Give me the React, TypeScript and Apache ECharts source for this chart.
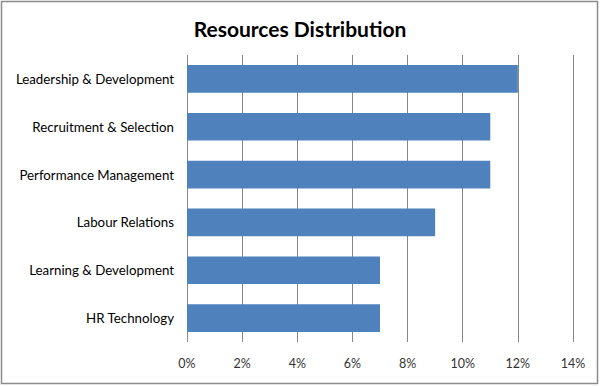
import React, { useEffect, useRef } from "react";
import * as echarts from "echarts";

const categories = [
  "Leadership & Development",
  "Recruitment & Selection",
  "Performance Management",
  "Labour Relations",
  "Learning & Development",
  "HR Technology",
];
const values = [0.12, 0.11, 0.11, 0.09, 0.07, 0.07];
const titleText = "Resources Distribution";

export default function App() {
  const ref = useRef<HTMLDivElement>(null);
  useEffect(() => {
    if (!ref.current) return;
    const chart = echarts.init(ref.current, null, { renderer: "svg" });
    chart.setOption({
      animation: false,
      backgroundColor: "#ffffff",
      title: {
        text: titleText,
        left: "center",
        top: 13,
        textStyle: {
          fontFamily: "Lato",
          fontWeight: "bold",
          fontSize: 21,
          color: "#000000",
        },
      },
      graphic: [
        {
          type: "rect",
          shape: { x: 1.5, y: 1.5, width: 596, height: 382 },
          style: { fill: "none", stroke: "#8c8c8c", lineWidth: 1.5 },
          silent: true,
        },
      ],
      grid: { left: 187, right: 27, top: 55, bottom: 44, containLabel: false },
      xAxis: {
        type: "value",
        min: 0,
        max: 0.14,
        interval: 0.02,
        axisLine: { show: false },
        axisTick: { show: false },
        splitLine: { show: true, lineStyle: { color: "#868686", width: 1 } },
        axisLabel: {
          formatter: (v: number) => Math.round(v * 100) + "%",
          fontFamily: "Lato",
          fontSize: 12.5,
          color: "#333333",
          margin: 15,
        },
      },
      yAxis: {
        type: "category",
        data: categories,
        inverse: true,
        axisLine: { show: false },
        axisTick: { show: false },
        splitLine: { show: false },
        axisLabel: {
          fontFamily: "Lato",
          fontSize: 13.3,
          color: "#000000",
          margin: 13,
        },
      },
      series: [
        {
          type: "bar",
          data: values,
          barCategoryGap: "42%",
          itemStyle: { color: "#4F81BD" },
        },
      ],
    });
    return () => chart.dispose();
  }, []);
  return (
    <div
      ref={ref}
      style={{ position: "fixed", left: 0, top: 0, width: 600, height: 386 }}
    />
  );
}
